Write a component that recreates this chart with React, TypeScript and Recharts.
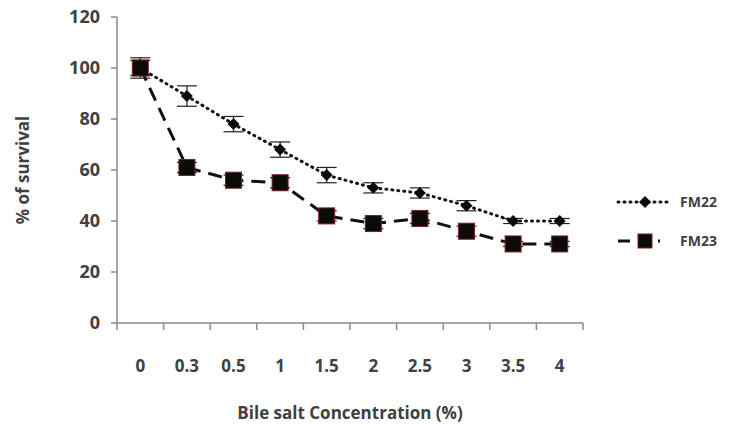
import { ErrorBar, Line, LineChart, XAxis, YAxis } from 'recharts';

const concentrations = ['0', '0.3', '0.5', '1', '1.5', '2', '2.5', '3', '3.5', '4'];
const fm22 = [100, 89, 78, 68, 58, 53, 51, 46, 40, 40];
const fm22Err = [4, 4, 3, 3, 3, 2, 2, 2, 1, 1];
const fm23 = [100, 61, 56, 55, 42, 39, 41, 36, 31, 31];
const fm23Err = [3, 2, 2, 2, 2, 2, 2, 2, 1, 1];
const yTicks = [0, 20, 40, 60, 80, 100, 120];

const data = concentrations.map((c, i) => ({
  conc: c,
  fm22: fm22[i],
  fm22Err: fm22Err[i],
  fm23: fm23[i],
  fm23Err: fm23Err[i],
}));

const FONT = "'Open Sans', 'Liberation Sans', sans-serif";
const TEXT = '#404040';
const AXIS = '#8a8a8a';

// Excel-style category axis: tick marks sit between categories, labels in the middle
function CategoryTick(props: any) {
  const { x, y, payload, index } = props;
  const half = payload?.offset ?? 0;
  const last = index === concentrations.length - 1;
  return (
    <g>
      <line x1={x - half} y1={y} x2={x - half} y2={y + 7} stroke={AXIS} strokeWidth={1.5} />
      {last && <line x1={x + half} y1={y} x2={x + half} y2={y + 7} stroke={AXIS} strokeWidth={1.5} />}
      <text x={x} y={y + 43} dy="0.35em" textAnchor="middle" fontFamily={FONT} fontWeight={700} fontSize={17} fill={TEXT}>
        {payload.value}
      </text>
    </g>
  );
}

function Diamond({ cx, cy }: { cx?: number; cy?: number }) {
  if (cx == null || cy == null) return null;
  const r = 6;
  return <path d={`M${cx},${cy - r}L${cx + r},${cy}L${cx},${cy + r}L${cx - r},${cy}Z`} fill="#0a0a0a" />;
}

function Square({ cx, cy }: { cx?: number; cy?: number }) {
  if (cx == null || cy == null) return null;
  const s = 8;
  return <rect x={cx - s} y={cy - s} width={s * 2} height={s * 2} fill="#0a0a0a" stroke="#7a1f1f" strokeWidth={1} />;
}

function LegendBox() {
  return (
    <svg width={140} height={80} style={{ position: 'absolute', left: 610, top: 180 }}>
      <line x1={8} y1={22} x2={58} y2={22} stroke="#111" strokeWidth={3} strokeDasharray="1 5" strokeLinecap="round" />
      <Diamond cx={35} cy={22} />
      <text x={70} y={22} dy="0.35em" fontFamily={FONT} fontWeight={700} fontSize={14} fill={TEXT}>FM22</text>
      <line x1={8} y1={61} x2={50} y2={61} stroke="#111" strokeWidth={3} strokeDasharray="12 8" />
      <rect x={28} y={54} width={14} height={14} fill="#0a0a0a" stroke="#7a1f1f" />
      <text x={70} y={61} dy="0.35em" fontFamily={FONT} fontWeight={700} fontSize={14} fill={TEXT}>FM23</text>
    </svg>
  );
}

export default function App() {
  return (
    <div style={{ position: 'absolute', left: 0, top: 0, width: 732, height: 425, background: '#fff' }}>
      <LineChart width={732} height={425} data={data} margin={{ top: 17, right: 149, bottom: 0, left: 0 }}>
        <XAxis
          dataKey="conc"
          scale="band"
          height={102}
          axisLine={{ stroke: AXIS, strokeWidth: 1.5 }}
          tickLine={false}
          tickSize={0}
          tickMargin={0}
          interval={0}
          tick={<CategoryTick />}
          label={{
            value: 'Bile salt Concentration (%)',
            position: 'insideBottom',
            offset: 6,
            style: { fontFamily: FONT, fontWeight: 700, fontSize: 17, fill: TEXT },
          }}
        />
        <YAxis
          width={117}
          domain={[0, 120]}
          ticks={yTicks}
          tickSize={6}
          tickMargin={11}
          axisLine={{ stroke: AXIS, strokeWidth: 1.5 }}
          tickLine={{ stroke: AXIS, strokeWidth: 1.5 }}
          tick={{ fontFamily: FONT, fontWeight: 700, fontSize: 18, fill: TEXT }}
          label={{
            value: '% of survival',
            angle: -90,
            position: 'center',
            dx: -36,
            style: { fontFamily: FONT, fontWeight: 700, fontSize: 17, fill: TEXT, textAnchor: 'middle' },
          }}
        />
        <Line
          dataKey="fm23"
          stroke="#111"
          strokeWidth={3}
          strokeDasharray="14 8"
          dot={<Square />}
          isAnimationActive={false}
        >
          <ErrorBar dataKey="fm23Err" width={10} stroke="#222" strokeWidth={1.2} />
        </Line>
        <Line
          dataKey="fm22"
          stroke="#111"
          strokeWidth={3}
          strokeDasharray="1 5"
          strokeLinecap="round"
          dot={<Diamond />}
          isAnimationActive={false}
        >
          <ErrorBar dataKey="fm22Err" width={10} stroke="#222" strokeWidth={1.2} />
        </Line>
      </LineChart>
      <LegendBox />
    </div>
  );
}
